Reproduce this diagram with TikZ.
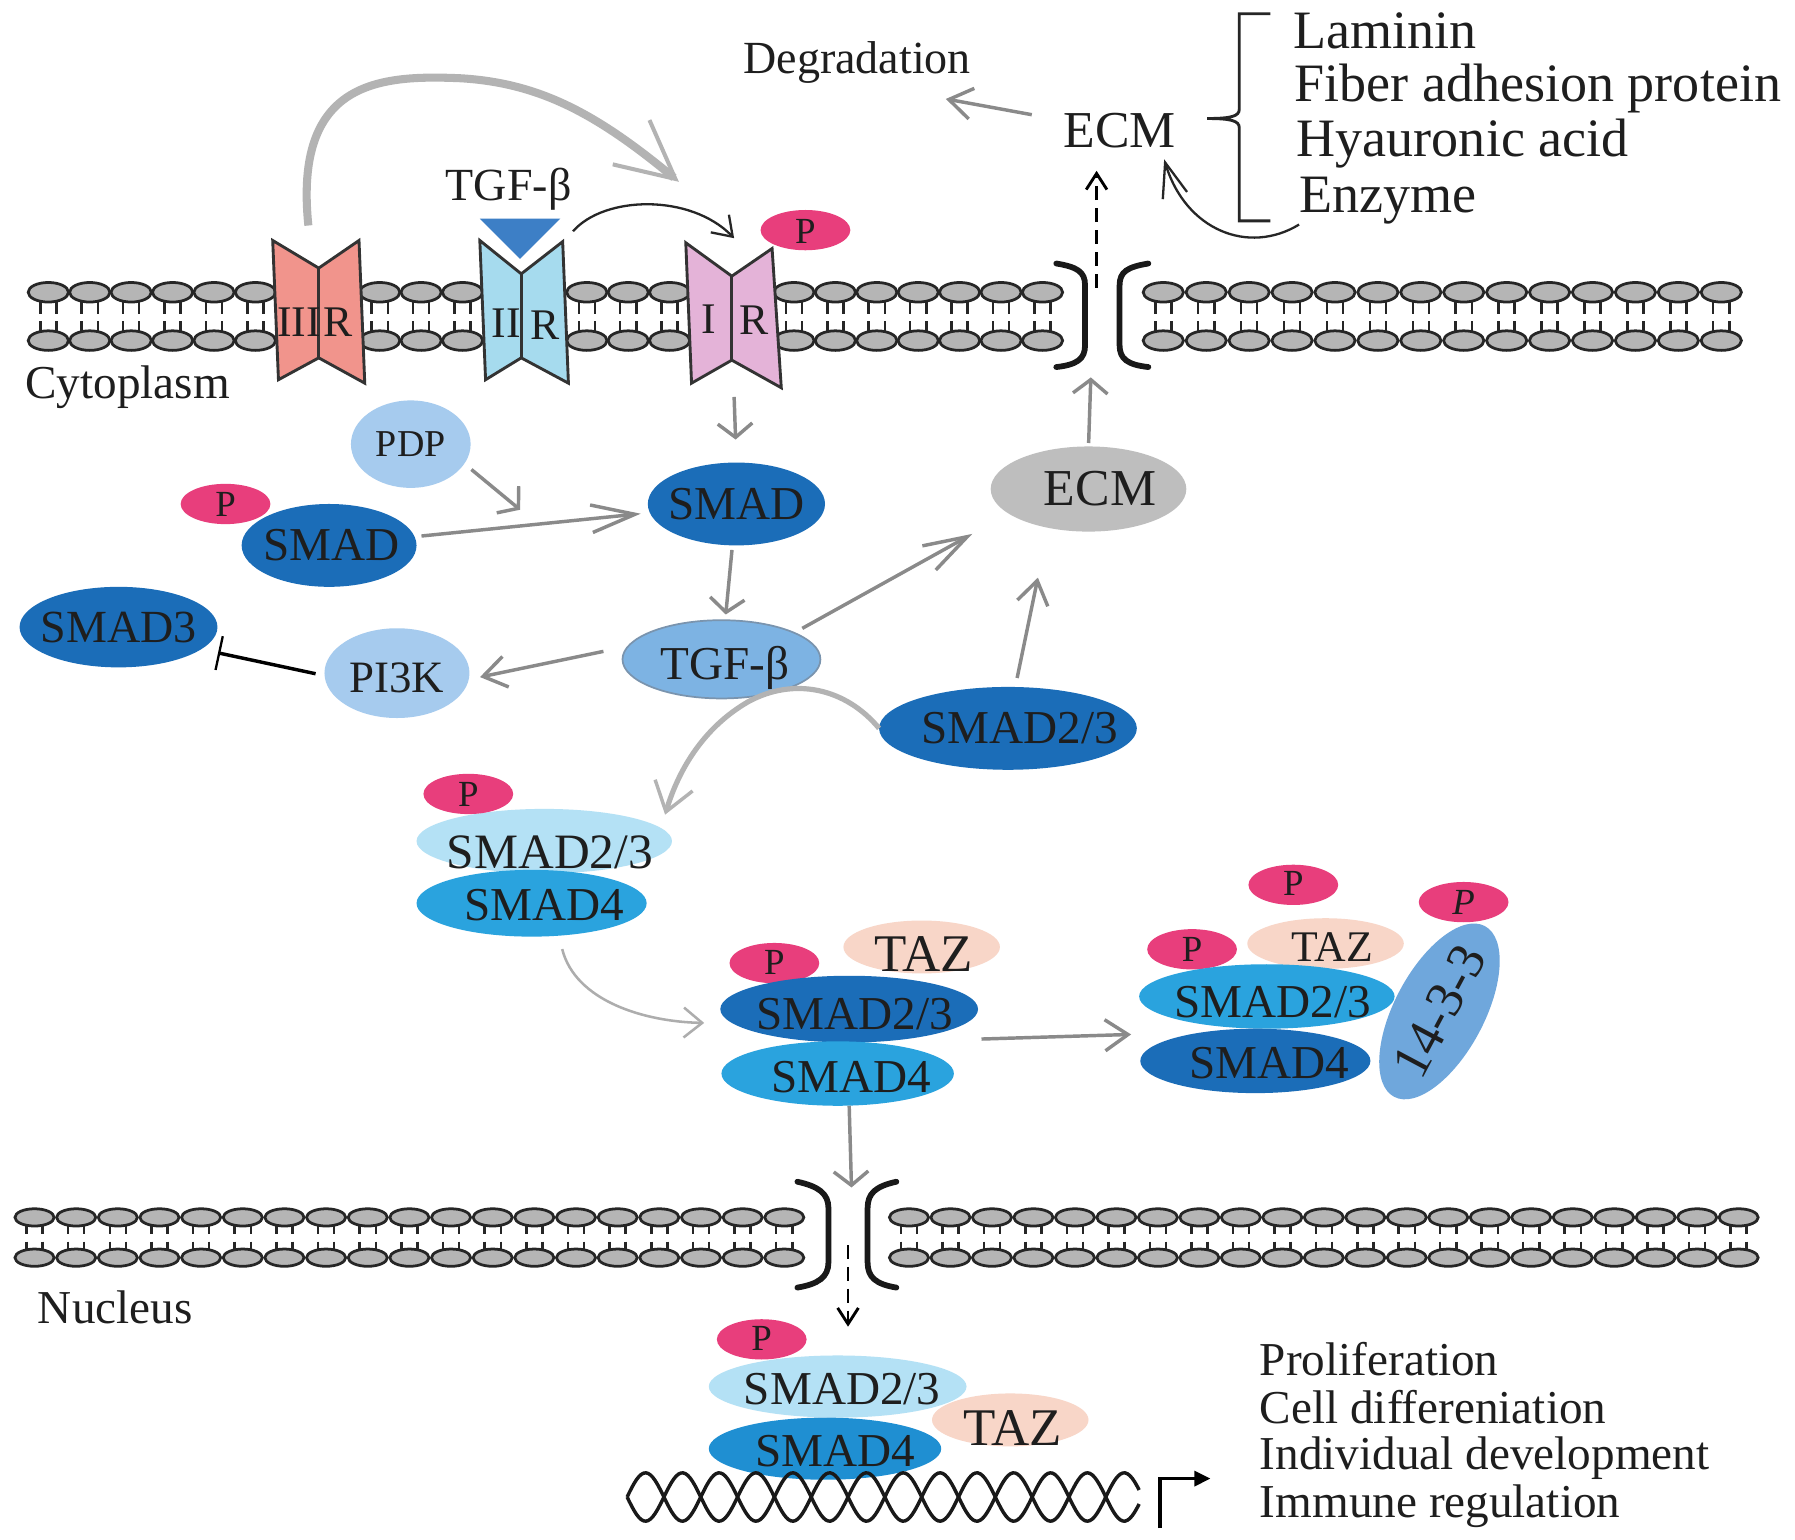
\documentclass[tikz,border=0pt]{standalone}
\usepackage{fontspec}
\setmainfont{Liberation Serif}
\usetikzlibrary{shapes.geometric,arrows.meta}
\definecolor{dblue}{HTML}{1B6DB8}
\definecolor{mblue}{HTML}{2AA3DE}
\definecolor{mtwo}{HTML}{1F8FD2}
\definecolor{lblue}{HTML}{B4E1F5}
\definecolor{pblue}{HTML}{A6CBEE}
\definecolor{tblue}{HTML}{7DB3E3}
\definecolor{tline}{HTML}{7A94AE}
\definecolor{qblue}{HTML}{6FA7DC}
\definecolor{ecmg}{HTML}{BEBEBE}
\definecolor{pnk}{HTML}{E83E7C}
\definecolor{tazc}{HTML}{F8D6C8}
\definecolor{rthree}{HTML}{F1948C}
\definecolor{rtwo}{HTML}{A6DBEE}
\definecolor{rone}{HTML}{E4B3D8}
\definecolor{tri}{HTML}{3D7FC6}
\definecolor{arr}{HTML}{8A8A8A}
\definecolor{lip}{HTML}{B5B5B5}
\definecolor{txt}{HTML}{1E1E1E}
\definecolor{bigc}{HTML}{B3B3B3}
\newcommand{\fsz}[1]{\fontsize{#1}{#1}\selectfont}
\tikzset{
  blob/.style={ellipse, inner sep=0pt, outer sep=0pt},
  pp/.style={blob, fill=pnk, minimum width=78, minimum height=35},
  tazb/.style={blob, fill=tazc, minimum width=136, minimum height=46},
  lab/.style={inner sep=0pt, outer sep=0pt, text=txt, font=\fsz{41}},
  plab/.style={lab, font=\fsz{32}},
  tail/.style={draw=black!85, line width=2.2},
  lhead/.style={draw=black!85, fill=lip, line width=2.4},
  chan/.style={draw=black!90, line width=5, line cap=round},
  rec/.style={draw=black!80, line width=2.5, line join=miter},
  garr/.style={draw=arr, line width=3, -{Straight Barb[length=20pt,width=27pt]}},
  widehead/.style={-{Straight Barb[length=12pt,width=30pt]}},
  longhead/.style={-{Straight Barb[length=38pt,width=24pt]}},
  blkarr/.style={draw=black!85, line width=2, -{Straight Barb[length=16pt,width=22pt]}},
  dasharr/.style={draw=black, line width=2.5, dash pattern=on 12pt off 7pt, -{Straight Barb[length=14pt,width=18pt]}},
  bigarr/.style={draw=bigc, line width=7, -{Straight Barb[length=50pt,width=50pt,line width=3.5pt]}},
  thickarr/.style={draw=bigc, line width=4.5, -{Straight Barb[length=24pt,width=34pt,line width=3pt]}},
  thinarr/.style={draw=arr!70, line width=2.2, -{Straight Barb[length=16pt,width=26pt]}},
  inhib/.style={draw=black, line width=3, -{Bar[width=30pt,line width=2pt]}},
  tssarr/.style={draw=black, line width=3, -{Triangle[length=14pt,width=13pt]}},
  dna/.style={draw=black!90, line width=3}
}
\begin{document}
\begin{tikzpicture}[x=1pt,y=-1pt]
\fill[white] (0,0) rectangle (1560,1338);
\useasboundingbox (0,0) rectangle (1560,1338);

% ---- plasma membrane
\foreach \i in {0,...,24}{
  \pgfmathsetmacro{\lx}{42+36*\i}
  \draw[tail] (\lx-7,262) -- (\lx-7,273) (\lx+7,262) -- (\lx+7,273) (\lx-7,279) -- (\lx-7,288) (\lx+7,279) -- (\lx+7,288);
  \draw[lhead] (\lx,254) ellipse[x radius=17.5,y radius=8.5] (\lx,296) ellipse[x radius=17.5,y radius=8.5];
}
\foreach \i in {0,...,13}{
  \pgfmathsetmacro{\lx}{1011+37.3*\i}
  \draw[tail] (\lx-7,262) -- (\lx-7,273) (\lx+7,262) -- (\lx+7,273) (\lx-7,279) -- (\lx-7,288) (\lx+7,279) -- (\lx+7,288);
  \draw[lhead] (\lx,254) ellipse[x radius=17.5,y radius=8.5] (\lx,296) ellipse[x radius=17.5,y radius=8.5];
}
\draw[chan] (918,229) .. controls (936,232) and (943,236) .. (943,248) -- (943,300) .. controls (943,312) and (936,317) .. (918,319);
\draw[chan] (998,229) .. controls (980,232) and (973,236) .. (973,248) -- (973,300) .. controls (973,312) and (980,317) .. (998,319);

% ---- nuclear membrane
\foreach \i in {0,...,18}{
  \pgfmathsetmacro{\lx}{30+36.2*\i}
  \draw[tail] (\lx-7,1064) -- (\lx-7,1072) (\lx+7,1064) -- (\lx+7,1072) (\lx-7,1079) -- (\lx-7,1087) (\lx+7,1079) -- (\lx+7,1087);
  \draw[lhead] (\lx,1058) ellipse[x radius=17,y radius=7.5] (\lx,1093) ellipse[x radius=17,y radius=7.5];
}
\foreach \i in {0,...,20}{
  \pgfmathsetmacro{\lx}{790+36.05*\i}
  \draw[tail] (\lx-7,1064) -- (\lx-7,1072) (\lx+7,1064) -- (\lx+7,1072) (\lx-7,1079) -- (\lx-7,1087) (\lx+7,1079) -- (\lx+7,1087);
  \draw[lhead] (\lx,1058) ellipse[x radius=17,y radius=7.5] (\lx,1093) ellipse[x radius=17,y radius=7.5];
}
\draw[chan] (693,1027) .. controls (711,1031) and (720,1037) .. (720,1050) -- (720,1097) .. controls (720,1110) and (711,1116) .. (693,1119);
\draw[chan] (779,1027) .. controls (761,1031) and (754,1037) .. (754,1050) -- (754,1097) .. controls (754,1110) and (761,1116) .. (779,1119);

% ---- receptors
\filldraw[rec, fill=rthree] (237,209) -- (277,233) -- (312,209) -- (317,333) -- (277,311) -- (242,330) -- cycle;
\draw[rec] (277,233) -- (277,311);
\filldraw[rec, fill=rtwo] (417,209) -- (453,238) -- (489,210) -- (494,333) -- (453,311) -- (422,330) -- cycle;
\draw[rec] (453,238) -- (453,311);
\filldraw[rec, fill=rone] (596,211) -- (636,240) -- (671,216) -- (679,337) -- (636,313) -- (601,333) -- cycle;
\draw[rec] (636,240) -- (636,313);
\fill[tri] (417,190) -- (487,190) -- (452,225) -- cycle;
\node[lab, font=\fsz{38}] (rIIIa) at (260,280) {III};
\node[lab, font=\fsz{38}] (rIIIb) at (294,280) {R};
\node[lab, font=\fsz{38}] (rIIa) at (440,281) {II};
\node[lab, font=\fsz{38}] (rIIb) at (474,283) {R};
\node[lab, font=\fsz{38}] (rIa) at (616,277) {I};
\node[lab, font=\fsz{38}] (rIb) at (655,278) {R};
\node[pp] (IRp) at (700,200) {};
\node[plab] (IRpt) at (700,201) {P};

% ---- texts
\node[lab, font=\fsz{40}, anchor=base] (Degr) at (745,64) {Degradation};
\node[lab, font=\fsz{45}, anchor=base] (ECMl) at (973,128) {ECM};
\node[lab, font=\fsz{47}, anchor=base west] (Lam) at (1124,42) {Laminin};
\node[lab, font=\fsz{47}, anchor=base west] (Fib) at (1125,88) {Fiber adhesion protein};
\node[lab, font=\fsz{47}, anchor=base west] (Hya) at (1127,136) {Hyauronic acid};
\node[lab, font=\fsz{47}, anchor=base west] (Enz) at (1129,185) {Enzyme};
\node[lab, font=\fsz{40}, anchor=base] (TGFl) at (442,174) {TGF-β};
\node[lab, anchor=base west] (Cyto) at (22,346) {Cytoplasm};
\node[lab, anchor=base west] (Nucl) at (33,1150) {Nucleus};
\node[lab, anchor=base west] (Prol) at (1095,1195) {Proliferation};
\node[lab, anchor=base west] (Cell) at (1095,1237) {Cell differeniation};
\node[lab, anchor=base west] (Indi) at (1095,1277) {Individual development};
\node[lab, anchor=base west] (Immu) at (1095,1319) {Immune regulation};
\draw[draw=black!85, line width=2.5] (1104,12) -- (1077,12) -- (1077,95) .. controls (1077,101) and (1070,103) .. (1049,103) .. controls (1070,103) and (1077,105) .. (1077,111) -- (1077,192) -- (1104,192);

% ---- cytoplasm nodes
\node[blob, fill=pblue, minimum width=104, minimum height=76] (PDP) at (357,386) {};
\node[lab, font=\fsz{33}] (PDPt) at (357,386) {PDP};
\node[pp] (Pl) at (196,438) {};
\node[plab] (Plt) at (196,438) {P};
\node[blob, fill=dblue, minimum width=152, minimum height=72] (SMADl) at (286,474) {};
\node[lab] (SMADlt) at (288,474) {SMAD};
\node[blob, fill=dblue, minimum width=154, minimum height=72] (SMADu) at (640,438) {};
\node[lab] (SMADut) at (640,438) {SMAD};
\node[blob, fill=dblue, minimum width=172, minimum height=70] (SMADt) at (103,545) {};
\node[lab, font=\fsz{40}] (SMADtt) at (103,545) {SMAD3};
\node[blob, fill=pblue, minimum width=126, minimum height=78] (PI3K) at (345,585) {};
\node[lab, font=\fsz{39}] (PI3Kt) at (345,589) {PI3K};
\node[blob, fill=tblue, draw=tline, line width=1.5, minimum width=172, minimum height=68] (TGFn) at (627,573) {};
\node[lab, anchor=base] (TGFnt) at (630,590.5) {TGF-β};
\node[blob, fill=ecmg, minimum width=170, minimum height=74] (ECMn) at (946,425) {};
\node[lab, font=\fsz{45}] (ECMnt) at (956,425) {ECM};
\node[blob, fill=dblue, minimum width=224, minimum height=72] (S23r) at (876,633) {};
\node[lab] (S23rt) at (886,633) {SMAD2/3};

% complex 1
\node[blob, fill=lblue, minimum width=222, minimum height=56] (C1a) at (473,731) {};
\node[pp] (C1p) at (407,690) {};
\node[blob, fill=mblue, minimum width=200, minimum height=58] (C1b) at (462,785) {};
\node[plab] (C1pt) at (407,690) {P};
\node[lab, font=\fsz{43}] (C1at) at (478,741) {SMAD2/3};
\node[lab] (C1bt) at (473,787) {SMAD4};
% complex 2
\node[tazb] (C2t) at (801,823) {};
\node[pp] (C2p) at (673,837) {};
\node[blob, fill=dblue, minimum width=224, minimum height=58] (C2a) at (738,877) {};
\node[blob, fill=mblue, minimum width=202, minimum height=56] (C2b) at (728,933) {};
\node[lab, font=\fsz{46}] (C2tt) at (803,829) {TAZ};
\node[plab] (C2pt) at (673,836) {P};
\node[lab] (C2at) at (743,881) {SMAD2/3};
\node[lab] (C2bt) at (740,936) {SMAD4};
% complex 3
\node[pp] (C3pa) at (1124,769) {};
\node[pp] (C3pb) at (1272,784) {};
\node[tazb, minimum height=44] (C3t) at (1152,820) {};
\node[pp] (C3pc) at (1036,825) {};
\node[blob, fill=mblue, minimum width=222, minimum height=56] (C3a) at (1101,866) {};
\node[blob, fill=dblue, minimum width=200, minimum height=56] (C3b) at (1091,922) {};
\node[blob, fill=qblue, minimum width=168, minimum height=78, rotate=62] (Q) at (1251,879) {};
\node[plab] (C3pat) at (1124,768) {P};
\node[plab] (C3pbt) at (1272,784) {\textit{P}};
\node[lab, font=\fsz{38}] (C3tt) at (1158,823) {TAZ};
\node[plab] (C3pct) at (1036,825) {P};
\node[lab] (C3at) at (1106,871) {SMAD2/3};
\node[lab] (C3bt) at (1103,924) {SMAD4};
\node[lab, font=\fsz{46}, rotate=62] (Qt) at (1251,879) {14-3-3};
% complex 4
\node[tazb] (C4t) at (878,1234) {};
\node[blob, fill=lblue, minimum width=224, minimum height=54] (C4a) at (728,1205) {};
\node[pp] (C4p) at (662,1164) {};
\node[blob, fill=mtwo, minimum width=202, minimum height=54] (C4b) at (717,1259) {};
\node[lab, font=\fsz{46}] (C4tt) at (880,1241) {TAZ};
\node[lab] (C4at) at (732,1207) {SMAD2/3};
\node[plab] (C4pt) at (662,1163) {P};
\node[lab] (C4bt) at (726,1261) {SMAD4};

% DNA
\draw[dna] plot[domain=545:990, samples=220] (\x,{1301+21*sin((\x-545)*5.625)});
\draw[dna] plot[domain=545:990, samples=220] (\x,{1301-21*sin((\x-545)*5.625)});

% ---- coordinates
\coordinate (IIIt) at (268,196);
\coordinate (IRt) at (590,158);
\coordinate (IIRt) at (498,201);
\coordinate (IRtop) at (638,207);
\coordinate (IRb) at (638,345);
\coordinate (pdpin) at (452,443);
\coordinate (ecmina) at (845,464);
\coordinate (ecminb) at (902,502);
\coordinate (chanB) at (948,328);
\coordinate (chanT) at (953,250);
\coordinate (degin) at (822,86);
\coordinate (cain) at (578,708);
\coordinate (cbin) at (612,889);
\coordinate (cbout) at (853,903);
\coordinate (ccin) at (983,899);
\coordinate (nchT) at (740,1032);
\coordinate (nchB) at (737,1082);
\coordinate (tss) at (1008,1328);

% ---- connectors
\draw[bigarr] (IIIt) .. controls (255,70) and (330,65) .. (400,68) .. controls (470,72) and (520,100) .. (IRt);
\draw[blkarr] (IIRt) .. controls (525,170) and (600,168) .. (IRtop);
\draw[garr, widehead, shorten >=20pt] (IRb) -- (SMADu.north);
\draw[garr, widehead, shorten <=8pt] (PDP.-20) -- (pdpin);
\draw[garr, longhead, shorten <=6pt, shorten >=8pt] (SMADl) -- (SMADu);
\draw[garr, widehead, shorten <=4pt, shorten >=5pt] (SMADu) -- (TGFn);
\draw[garr, shorten <=22pt, shorten >=10pt] (TGFn.172) -- (PI3K.-5);
\draw[inhib, shorten <=8pt, shorten >=15pt] (PI3K.182) -- (SMADt.-15);
\draw[garr, longhead, shorten <=8pt] (TGFn.20) -- (ecmina);
\draw[garr, shorten <=8pt] (S23r.80) -- (ecminb);
\draw[garr, widehead, shorten <=3pt] (ECMn.north) -- (chanB);
\draw[dasharr, shorten >=20pt] (chanT) -- (ECMl.south -| chanT);
\draw[garr, shorten <=28pt] (ECMl.170) -- (degin);
\draw[blkarr, -{Straight Barb[length=30pt,width=22pt]}] (Enz.south west) .. controls (1085,222) and (1030,200) .. ([shift={(-10,10)}]ECMl.south east);
\draw[thickarr] (S23r.west) .. controls (735,598) and (690,588) .. (650,610) .. controls (612,632) and (590,668) .. (cain);
\draw[thinarr, shorten <=12pt] (C1b.-50) .. controls (500,870) and (560,888) .. (cbin);
\draw[garr, widehead] ([xshift=10]C2b.south) -- (nchT);
\draw[garr] (cbout) -- (ccin);
\draw[dasharr, shorten >=25pt] (nchB) -- (C4a.north -| nchB);
\draw[tssarr] (tss) -- ++(0,-43) -- ++(44,0);
\end{tikzpicture}
\end{document}
